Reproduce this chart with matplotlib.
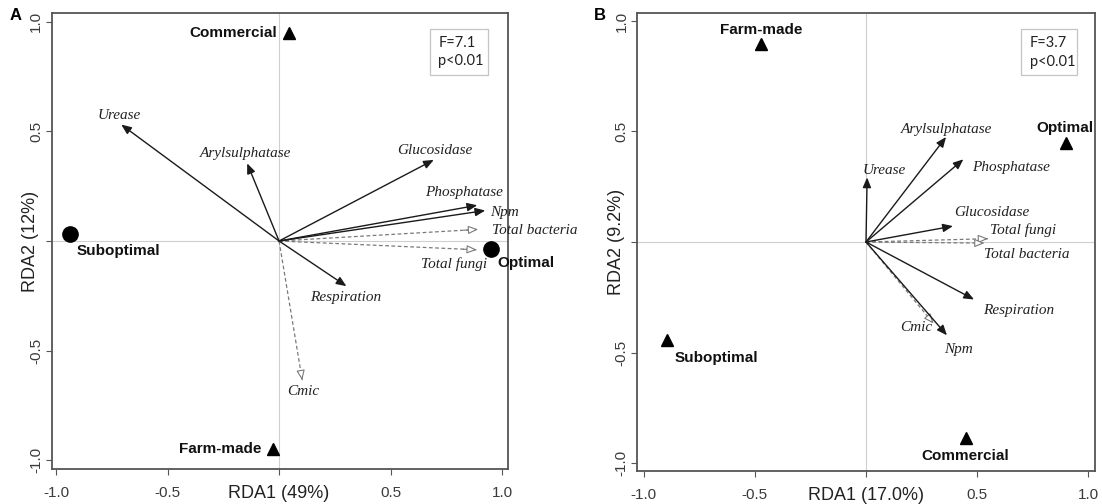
import matplotlib
matplotlib.use("Agg")
import matplotlib.pyplot as plt
from matplotlib.patches import FancyArrowPatch, Rectangle
import numpy as np

# ---------------- data ----------------
# Panel A
a_var_names = ["Urease", "Arylsulphatase", "Glucosidase", "Phosphatase", "Npm",
               "Total bacteria", "Total fungi", "Respiration", "Cmic"]
a_var_x = [-0.708, -0.143, 0.694, 0.889, 0.925, 0.893, 0.887, 0.302, 0.104]
a_var_y = [0.531, 0.354, 0.370, 0.163, 0.139, 0.053, -0.040, -0.206, -0.635]
a_var_dashed = [False, False, False, False, False, True, True, False, True]

a_site_names = ["Commercial", "Farm-made", "Optimal", "Suboptimal"]
a_site_x = [0.046, -0.028, 0.950, -0.940]
a_site_y = [0.947, -0.947, -0.036, 0.034]
a_site_marker = ["^", "^", "o", "o"]
a_stats = "F=7.1\np<0.01"
a_xlabel = "RDA1 (49%)"
a_ylabel = "RDA2 (12%)"

# Panel B
b_var_names = ["Urease", "Arylsulphatase", "Phosphatase", "Glucosidase",
               "Total fungi", "Total bacteria", "Respiration", "Cmic", "Npm"]
b_var_x = [0.005, 0.360, 0.438, 0.391, 0.549, 0.533, 0.486, 0.304, 0.364]
b_var_y = [0.292, 0.475, 0.374, 0.072, 0.015, -0.005, -0.260, -0.369, -0.422]
b_var_dashed = [False, False, False, False, True, True, False, True, False]

b_site_names = ["Farm-made", "Optimal", "Suboptimal", "Commercial"]
b_site_x = [-0.472, 0.899, -0.894, 0.451]
b_site_y = [0.894, 0.449, -0.444, -0.887]
b_site_marker = ["^", "^", "^", "^"]
b_stats = "F=3.7\np<0.01"
b_xlabel = "RDA1 (17.0%)"
b_ylabel = "RDA2 (9.2%)"

tick_vals = [-1.0, -0.5, 0.0, 0.5, 1.0]
tick_labels = ["-1.0", "-0.5", "", "0.5", "1.0"]

# ---------------- layout (label placement) ----------------
a_var_label = {
    "Urease": (-0.716, 0.573, "center"),
    "Arylsulphatase": (-0.150, 0.400, "center"),
    "Glucosidase": (0.697, 0.415, "center"),
    "Phosphatase": (0.830, 0.223, "center"),
    "Npm": (0.945, 0.128, "left"),
    "Total bacteria": (0.956, 0.050, "left"),
    "Total fungi": (0.785, -0.105, "center"),
    "Respiration": (0.297, -0.259, "center"),
    "Cmic": (0.108, -0.688, "center"),
}
a_site_label = {
    "Commercial": (-0.010, 0.947, "right"),
    "Farm-made": (-0.080, -0.947, "right"),
    "Optimal": (0.980, -0.100, "left"),
    "Suboptimal": (-0.909, -0.045, "left"),
}
b_var_label = {
    "Urease": (0.084, 0.322, "center"),
    "Arylsulphatase": (0.363, 0.509, "center"),
    "Phosphatase": (0.651, 0.337, "center"),
    "Glucosidase": (0.565, 0.135, "center"),
    "Total fungi": (0.707, 0.052, "center"),
    "Total bacteria": (0.722, -0.057, "center"),
    "Respiration": (0.686, -0.312, "center"),
    "Cmic": (0.226, -0.387, "center"),
    "Npm": (0.418, -0.485, "center"),
}
b_site_label = {
    "Farm-made": (-0.472, 0.958, "center"),
    "Optimal": (0.896, 0.516, "center"),
    "Suboptimal": (-0.863, -0.526, "left"),
    "Commercial": (0.448, -0.970, "center"),
}

SANS = "Liberation Sans"
SERIF = "Liberation Serif"
FRAME = "#555555"
TICKC = "#3a3a3a"

W, H = 1102, 504
fig = plt.figure(figsize=(W / 100, H / 100), dpi=100)
fig.patch.set_facecolor("white")

axA = fig.add_axes([51.7 / W, 1 - 469 / H, (508 - 51.7) / W, (469 - 13) / H])
axB = fig.add_axes([637 / W, 1 - 471 / H, (1095 - 637) / W, (471 - 13) / H])


def arrow(ax, x, y, dashed):
    if dashed:
        col = "#7a7a7a"
        ax.plot([0, x], [0, y], ls=(0, (3, 2)), color=col, lw=0.9, zorder=2)
        p = FancyArrowPatch((0.93 * x, 0.93 * y), (x, y),
                            arrowstyle="-|>,head_length=0.6,head_width=0.25",
                            mutation_scale=10, fc="white", ec=col, lw=0.8,
                            shrinkA=0, shrinkB=0, zorder=3)
    else:
        p = FancyArrowPatch((0, 0), (x, y),
                            arrowstyle="-|>,head_length=0.6,head_width=0.25",
                            mutation_scale=10, fc="#1a1a1a", ec="#1a1a1a", lw=1.0,
                            shrinkA=0, shrinkB=0, zorder=3)
    ax.add_patch(p)


def panel(ax, letter, xlim, ylim, names, vx, vy, dashed, vlab,
          snames, sx, sy, smark, slab, stats, stats_box, xlabel, ylabel):
    ax.set_xlim(*xlim)
    ax.set_ylim(*ylim)
    ax.axhline(0, color="#cfcfcf", lw=0.8, zorder=1)
    ax.axvline(0, color="#cfcfcf", lw=0.8, zorder=1)
    for n, x, y, d in zip(names, vx, vy, dashed):
        arrow(ax, x, y, d)
        tx, ty, ha = vlab[n]
        ax.text(tx, ty, n, ha=ha, va="center", family=SERIF, style="italic",
                fontsize=11, color="#222222", clip_on=False, zorder=4)
    for n, x, y, m in zip(snames, sx, sy, smark):
        ms = 9 if m == "^" else 11
        ax.plot([x], [y], marker=m, ms=ms, color="black", ls="none",
                zorder=5, clip_on=False)
        tx, ty, ha = slab[n]
        ax.text(tx, ty, n, ha=ha, va="center", family=SANS, weight="bold",
                fontsize=11, color="#111111", clip_on=False, zorder=6)
    ax.set_xticks(tick_vals)
    ax.set_xticklabels(tick_labels)
    ax.set_yticks(tick_vals)
    ax.set_yticklabels(tick_labels, rotation=90, va="center")
    ax.tick_params(direction="out", length=4, width=0.8, color=FRAME,
                   labelsize=11, labelcolor=TICKC)
    ax.tick_params(axis="x", pad=8)
    ax.tick_params(axis="y", pad=2)
    for lab in ax.get_xticklabels() + ax.get_yticklabels():
        lab.set_family(SANS)
    for s in ax.spines.values():
        s.set_color(FRAME)
        s.set_linewidth(1.3)
    # axis titles sit in the tick-label row at the zero position
    ax.annotate(xlabel, xy=(0, 0), xycoords=("data", "axes fraction"),
                xytext=(0, -18), textcoords="offset points", ha="center", va="center",
                family=SANS, fontsize=13, color="#222222")
    ax.annotate(ylabel, xy=(0, 0), xycoords=("axes fraction", "data"),
                xytext=(-15, 0), textcoords="offset points", ha="center", va="center",
                rotation=90, family=SANS, fontsize=13, color="#222222")
    # statistics box
    bx0, by0, bw, bh = stats_box
    ax.add_patch(Rectangle((bx0, by0), bw, bh, transform=ax.transAxes,
                           fc="white", ec="#c4c4c4", lw=0.9, zorder=6))
    ax.text(bx0 + 0.018, by0 + bh / 2, stats, transform=ax.transAxes,
            ha="left", va="center", family="Lato", fontsize=10.5,
            linespacing=1.45, color="#222222", zorder=7)
    ax.text(-0.08, 0.995, letter, transform=ax.transAxes, ha="center", va="center",
            family=SANS, weight="bold", fontsize=12)


panel(axA, "A", (-1.02, 1.027), (-1.04, 1.04), a_var_names, a_var_x, a_var_y,
      a_var_dashed, a_var_label, a_site_names, a_site_x, a_site_y, a_site_marker,
      a_site_label, a_stats, (0.829, 0.864, 0.128, 0.101), a_xlabel, a_ylabel)
panel(axB, "B", (-1.03, 1.03), (-1.036, 1.036), b_var_names, b_var_x, b_var_y,
      b_var_dashed, b_var_label, b_site_names, b_site_x, b_site_y, b_site_marker,
      b_site_label, b_stats, (0.839, 0.864, 0.122, 0.101), b_xlabel, b_ylabel)

fig.savefig("out.png", dpi=100, facecolor="white")
